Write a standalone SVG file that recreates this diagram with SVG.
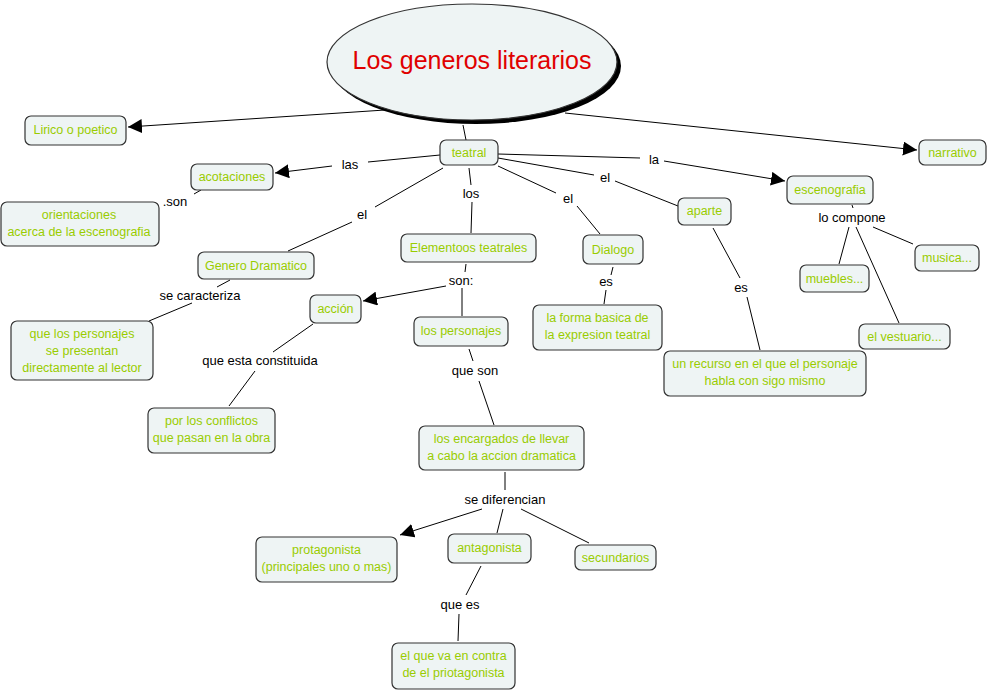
<svg xmlns="http://www.w3.org/2000/svg" width="989" height="692" viewBox="0 0 989 692">
<defs>
<marker id="arr" viewBox="0 0 10 10" refX="10" refY="5" markerWidth="14" markerHeight="14" markerUnits="userSpaceOnUse" orient="auto"><path d="M0,0 L10,5 L0,10 z" fill="#000"/></marker>
</defs>
<style>
.n rect{fill:#eef4f4;stroke:#333;stroke-width:1.2}
.n text{fill:#99cc00;font-family:"Comic Sans MS","Liberation Sans",sans-serif;font-size:12.5px;text-anchor:middle}
.c line{stroke:#000;stroke-width:1}
.l{font-family:"Liberation Sans",Arial,sans-serif;font-size:13px;fill:#000;text-anchor:middle}
</style>
<rect width="989" height="692" fill="#fff"/>
<g id="connectors" class="c">
<line x1="385" y1="110" x2="128" y2="127" marker-end="url(#arr)"/>
<line x1="565" y1="113" x2="917" y2="150" marker-end="url(#arr)"/>
<line x1="463" y1="125" x2="466" y2="140"/>
<line x1="440" y1="155" x2="368" y2="162"/>
<line x1="332" y1="166" x2="275" y2="173" marker-end="url(#arr)"/>
<line x1="201" y1="190" x2="194" y2="194"/>
<line x1="443" y1="168" x2="375" y2="207"/>
<line x1="352" y1="222" x2="288" y2="251"/>
<line x1="469" y1="168" x2="471" y2="185"/>
<line x1="472" y1="202" x2="471" y2="233"/>
<line x1="498" y1="166" x2="556" y2="193"/>
<line x1="577" y1="206" x2="600" y2="234"/>
<line x1="498" y1="158" x2="594" y2="175"/>
<line x1="615" y1="181" x2="678" y2="206"/>
<line x1="498" y1="154" x2="640" y2="158"/>
<line x1="664" y1="161" x2="785" y2="181" marker-end="url(#arr)"/>
<line x1="852" y1="205" x2="853" y2="208"/>
<line x1="849" y1="227" x2="839" y2="264"/>
<line x1="856" y1="227" x2="899" y2="323"/>
<line x1="873" y1="227" x2="913" y2="244"/>
<line x1="713" y1="228" x2="740" y2="278"/>
<line x1="747" y1="297" x2="760" y2="350"/>
<line x1="613" y1="267" x2="611" y2="275"/>
<line x1="606" y1="290" x2="604" y2="304"/>
<line x1="230" y1="280" x2="217" y2="287"/>
<line x1="192" y1="303" x2="149" y2="321"/>
<line x1="466" y1="264" x2="465" y2="272"/>
<line x1="446" y1="286" x2="363" y2="301" marker-end="url(#arr)"/>
<line x1="462" y1="288" x2="462" y2="316"/>
<line x1="313" y1="324" x2="273" y2="352"/>
<line x1="255" y1="371" x2="229" y2="406"/>
<line x1="469" y1="349" x2="473" y2="361"/>
<line x1="479" y1="381" x2="494" y2="425"/>
<line x1="505" y1="472" x2="505" y2="490"/>
<line x1="482" y1="509" x2="400" y2="535" marker-end="url(#arr)"/>
<line x1="503" y1="509" x2="497" y2="533"/>
<line x1="521" y1="509" x2="589" y2="543"/>
<line x1="481" y1="566" x2="466" y2="595"/>
<line x1="459" y1="614" x2="458" y2="641"/>
</g>
<g id="labels">
<text class="l" x="350" y="169">las</text>
<text class="l" x="175" y="206">.son</text>
<text class="l" x="362" y="219">el</text>
<text class="l" x="471" y="198">los</text>
<text class="l" x="568" y="203">el</text>
<text class="l" x="605" y="182">el</text>
<text class="l" x="654" y="164">la</text>
<text class="l" x="852" y="222">lo compone</text>
<text class="l" x="200" y="300">se caracteriza</text>
<text class="l" x="461" y="285">son:</text>
<text class="l" x="606" y="286">es</text>
<text class="l" x="741" y="292">es</text>
<text class="l" x="260" y="365">que esta constituida</text>
<text class="l" x="475" y="375">que son</text>
<text class="l" x="505" y="504">se diferencian</text>
<text class="l" x="460" y="609">que es</text>
</g>
<g id="title">
<ellipse cx="476" cy="66" rx="145" ry="58" fill="#000"/>
<ellipse cx="472" cy="62" rx="145" ry="58" fill="#eef4f4" stroke="#333" stroke-width="1.2"/>
<text x="472" y="69" fill="#e00000" font-family="'Comic Sans MS','Liberation Sans',sans-serif" font-size="25" text-anchor="middle">Los generos literarios</text>
</g>
<g id="lirico" class="n"><rect x="25" y="116" width="101" height="29" rx="6"/><text x="75.5" y="134">Lirico o poetico</text></g>
<g id="acotaciones" class="n"><rect x="191" y="164" width="82" height="26" rx="6"/><text x="232" y="181">acotaciones</text></g>
<g id="orientaciones" class="n"><rect x="1" y="202" width="158" height="44" rx="6"/><text x="79" y="219">orientaciones</text><text x="79" y="236">acerca de la escenografia</text></g>
<g id="teatral" class="n"><rect x="440" y="140" width="58" height="25" rx="6"/><text x="469" y="157">teatral</text></g>
<g id="narrativo" class="n"><rect x="919" y="140" width="67" height="25" rx="6"/><text x="952.5" y="157">narrativo</text></g>
<g id="escenografia" class="n"><rect x="787" y="176" width="86" height="28" rx="6"/><text x="830" y="194">escenografia</text></g>
<g id="aparte" class="n"><rect x="678" y="198" width="53" height="27" rx="6"/><text x="704.5" y="215">aparte</text></g>
<g id="genero" class="n"><rect x="198" y="252" width="116" height="27" rx="6"/><text x="256" y="270">Genero Dramatico</text></g>
<g id="elementos" class="n"><rect x="401" y="234" width="135" height="28" rx="6"/><text x="468.5" y="252">Elementoos teatrales</text></g>
<g id="dialogo" class="n"><rect x="583" y="235" width="60" height="29" rx="6"/><text x="613" y="254">Dialogo</text></g>
<g id="muebles" class="n"><rect x="800" y="265" width="69" height="27" rx="6"/><text x="834.5" y="283">muebles...</text></g>
<g id="musica" class="n"><rect x="915" y="245" width="64" height="26" rx="6"/><text x="947" y="262">musica...</text></g>
<g id="accion" class="n"><rect x="310" y="295" width="51" height="28" rx="6"/><text x="335.5" y="313">acción</text></g>
<g id="personajes" class="n"><rect x="414" y="317" width="94" height="29" rx="6"/><text x="461" y="335">los personajes</text></g>
<g id="forma" class="n"><rect x="533" y="305" width="129" height="45" rx="6"/><text x="597.5" y="322">la forma basica de</text><text x="597.5" y="339">la expresion teatral</text></g>
<g id="vestuario" class="n"><rect x="859" y="324" width="91" height="25" rx="6"/><text x="904.5" y="341">el vestuario...</text></g>
<g id="recurso" class="n"><rect x="664" y="351" width="202" height="45" rx="6"/><text x="765" y="368">un recurso en el que el personaje</text><text x="765" y="385">habla con sigo mismo</text></g>
<g id="queLos" class="n"><rect x="11" y="321" width="142" height="59" rx="6"/><text x="82" y="338">que los personajes</text><text x="82" y="355">se presentan</text><text x="82" y="372">directamente al lector</text></g>
<g id="conflictos" class="n"><rect x="148" y="408" width="127" height="45" rx="6"/><text x="211.5" y="425">por los conflictos</text><text x="211.5" y="442">que pasan en la obra</text></g>
<g id="encargados" class="n"><rect x="419" y="426" width="165" height="44" rx="6"/><text x="501.5" y="443">los encargados de llevar</text><text x="501.5" y="460">a cabo la accion dramatica</text></g>
<g id="protagonista" class="n"><rect x="256" y="537" width="141" height="45" rx="6"/><text x="326.5" y="554">protagonista</text><text x="326.5" y="571">(principales uno o mas)</text></g>
<g id="antagonista" class="n"><rect x="448" y="534" width="83" height="29" rx="6"/><text x="489.5" y="552">antagonista</text></g>
<g id="secundarios" class="n"><rect x="575" y="545" width="81" height="25" rx="6"/><text x="615.5" y="562">secundarios</text></g>
<g id="contra" class="n"><rect x="392" y="643" width="123" height="46" rx="6"/><text x="453.5" y="660">el que va en contra</text><text x="453.5" y="677">de el priotagonista</text></g>
</svg>
